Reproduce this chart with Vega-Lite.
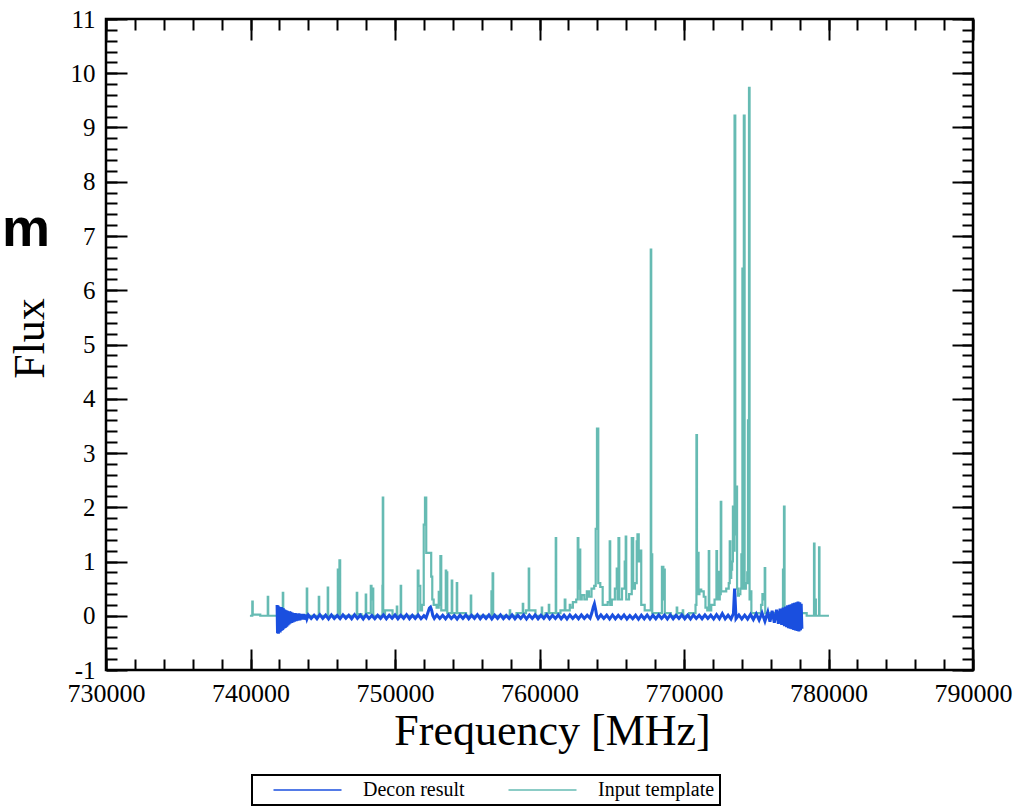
{
"$schema": "https://vega.github.io/schema/vega-lite/v6.json",
"width": 867,
"height": 651,
"autosize": "none",
"padding": {"left": 106, "top": 19, "right": 41, "bottom": 138},
"background": "white",
"config": {"view": {"stroke": "black", "strokeWidth": 2.5}, "font": "Liberation Serif"},
"datasets": {
"teal": [
{"f":739960,"v":0},{"f":740000,"v":0},{"f":740110,"v":0},{"f":740138,"v":0.26},{"f":740170,"v":0.02},
{"f":741180,"v":0},{"f":741210,"v":0.35},{"f":741240,"v":0},
{"f":742220,"v":0},{"f":742250,"v":0.42},{"f":742280,"v":0},
{"f":743880,"v":0},{"f":743910,"v":0.5},{"f":743940,"v":0},
{"f":744710,"v":0},{"f":744740,"v":0.35},{"f":744770,"v":0},
{"f":745330,"v":0},{"f":745360,"v":0.52},{"f":745390,"v":0},
{"f":746030,"v":0},{"f":746055,"v":0.85},{"f":746120,"v":0.05},{"f":746190,"v":1.02},{"f":746220,"v":0},
{"f":747340,"v":0},{"f":747370,"v":0.42},{"f":747400,"v":0.03},
{"f":747960,"v":0},{"f":747990,"v":0.39},{"f":748020,"v":0.05},{"f":748310,"v":0.05},{"f":748340,"v":0.55},{"f":748410,"v":0.3},{"f":748480,"v":0.5},{"f":748510,"v":0},
{"f":749120,"v":0},{"f":749140,"v":0.55},{"f":749170,"v":2.18},{"f":749200,"v":0},{"f":749420,"v":0.1},{"f":749550,"v":0.1},
{"f":750110,"v":0},{"f":750140,"v":0.17},{"f":750170,"v":0},{"f":750380,"v":0},{"f":750410,"v":0.55},{"f":750440,"v":0},
{"f":751560,"v":0},{"f":751590,"v":0.83},{"f":751660,"v":0.55},{"f":751729,"v":0.55},{"f":751770,"v":0.1},
{"f":751970,"v":0.2},{"f":752006,"v":1.68},{"f":752144,"v":2.18},{"f":752180,"v":1.16},{"f":752350,"v":1.16},{"f":752490,"v":1.16},{"f":752520,"v":0.72},{"f":752559,"v":0.72},{"f":752600,"v":0.3},{"f":752750,"v":0.2},
{"f":753010,"v":0.15},{"f":753044,"v":0.44},{"f":753100,"v":0.2},{"f":753182,"v":1.1},{"f":753220,"v":0.1},
{"f":753500,"v":0.1},{"f":753528,"v":0.83},{"f":753560,"v":0.4},{"f":753597,"v":0.8},{"f":753640,"v":0.05},
{"f":753910,"v":0.05},{"f":753943,"v":0.65},{"f":753980,"v":0.05},{"f":754260,"v":0.05},{"f":754289,"v":0.6},{"f":754320,"v":0.05},{"f":754600,"v":0.05},
{"f":755230,"v":0},{"f":755258,"v":0.37},{"f":755290,"v":0},
{"f":756660,"v":0},{"f":756690,"v":0.45},{"f":756730,"v":0.1},{"f":756780,"v":0.78},{"f":756810,"v":0},
{"f":757930,"v":0},{"f":757957,"v":0.1},{"f":757990,"v":0},
{"f":758830,"v":0.05},{"f":758856,"v":0.22},{"f":758890,"v":0.05},{"f":759240,"v":0.1},{"f":759272,"v":0.87},{"f":759300,"v":0.1},
{"f":760140,"v":0},{"f":760171,"v":0.15},{"f":760200,"v":0},{"f":760630,"v":0.05},{"f":760656,"v":0.2},{"f":760690,"v":0.05},
{"f":761110,"v":0.05},{"f":761140,"v":1.43},{"f":761170,"v":0.05},
{"f":761730,"v":0.1},{"f":761763,"v":0.3},{"f":761820,"v":0.1},{"f":762080,"v":0.1},{"f":762109,"v":0.2},{"f":762170,"v":0.15},{"f":762450,"v":0.25},
{"f":762630,"v":0.3},{"f":762662,"v":1.43},{"f":762720,"v":0.5},{"f":762801,"v":1.22},{"f":762840,"v":0.3},{"f":763008,"v":0.38},{"f":763200,"v":0.3},{"f":763354,"v":0.45},{"f":763500,"v":0.35},{"f":763700,"v":0.5},
{"f":763870,"v":0.55},{"f":763908,"v":1.6},{"f":764046,"v":3.45},{"f":764090,"v":0.6},{"f":764323,"v":0.53},{"f":764420,"v":0.2},{"f":764600,"v":0.2},
{"f":764840,"v":0.25},{"f":764877,"v":1.37},{"f":764910,"v":0.2},{"f":765100,"v":0.3},{"f":765330,"v":0.5},{"f":765361,"v":0.87},{"f":765430,"v":0.3},{"f":765500,"v":1.43},{"f":765540,"v":0.3},
{"f":765880,"v":0.5},{"f":765915,"v":1.0},{"f":765950,"v":0.5},{"f":765984,"v":1.46},{"f":766020,"v":0.3},{"f":766370,"v":0.4},{"f":766399,"v":1.43},{"f":766468,"v":1.43},{"f":766500,"v":0.5},
{"f":766710,"v":0.6},{"f":766745,"v":1.37},{"f":766814,"v":1.5},{"f":766920,"v":1.0},{"f":767022,"v":1.2},{"f":767060,"v":0.2},{"f":767500,"v":0.1},
{"f":767685,"v":0.1},{"f":767714,"v":6.75},{"f":767750,"v":0.5},{"f":767783,"v":1.13},{"f":767820,"v":0.05},
{"f":768400,"v":0.05},{"f":768544,"v":0.9},{"f":768600,"v":0.3},{"f":768648,"v":0.85},{"f":768690,"v":0.05},
{"f":769480,"v":0},{"f":769513,"v":0.15},{"f":769550,"v":0.05},{"f":769900,"v":0.05},{"f":769928,"v":0.1},{"f":769960,"v":0},
{"f":770750,"v":0.05},{"f":770845,"v":0.2},{"f":770876,"v":3.33},{"f":770920,"v":0.5},{"f":770987,"v":1.16},{"f":771030,"v":0.4},{"f":771105,"v":0.48},{"f":771280,"v":0.45},{"f":771451,"v":0.35},{"f":771520,"v":0.15},
{"f":771700,"v":0.1},{"f":771728,"v":1.19},{"f":771770,"v":0.1},{"f":772000,"v":0.2},{"f":772230,"v":0.3},{"f":772260,"v":1.19},{"f":772310,"v":0.4},{"f":772371,"v":0.81},{"f":772420,"v":0.3},
{"f":772530,"v":0.4},{"f":772558,"v":2.1},{"f":772600,"v":0.45},{"f":772800,"v":0.45},{"f":773042,"v":0.5},{"f":773150,"v":0.6},{"f":773181,"v":1.37},{"f":773240,"v":0.7},{"f":773298,"v":0.85},{"f":773360,"v":1.0},
{"f":773409,"v":2.01},{"f":773470,"v":1.2},{"f":773527,"v":9.22},{"f":773570,"v":1.5},{"f":773644,"v":2.38},{"f":773700,"v":0.5},{"f":773755,"v":0.37},{"f":773850,"v":0.4},{"f":773950,"v":0.5},
{"f":773990,"v":1.13},{"f":774025,"v":0.6},{"f":774060,"v":6.4},{"f":774110,"v":0.5},{"f":774170,"v":9.22},{"f":774220,"v":0.5},{"f":774340,"v":0.6},{"f":774410,"v":0.8},{"f":774447,"v":3.6},{"f":774480,"v":0.6},
{"f":774516,"v":9.73},{"f":774560,"v":0.3},{"f":774634,"v":0.45},{"f":774690,"v":0.05},
{"f":775290,"v":0.05},{"f":775374,"v":0.2},{"f":775480,"v":0.4},{"f":775570,"v":0.3},{"f":775603,"v":0.88},{"f":775640,"v":0.05},
{"f":776830,"v":0.05},{"f":776869,"v":0.85},{"f":776900,"v":0.3},{"f":776938,"v":2.01},{"f":776980,"v":0.05},{"f":777500,"v":0.1},{"f":778000,"v":0.05},
{"f":778980,"v":0},{"f":779014,"v":1.33},{"f":779050,"v":0.1},{"f":779100,"v":0.3},{"f":779150,"v":0},{"f":779330,"v":0},{"f":779360,"v":1.26},{"f":779390,"v":0},{"f":780032,"v":0}
],
"blue": [
{"f":741840,"v":0.2},{"f":741870,"v":-0.32},{"f":741900,"v":0.19},{"f":741930,"v":-0.33},{"f":741960,"v":0.17},{"f":741990,"v":-0.3},{"f":742020,"v":0.16},{"f":742050,"v":-0.31},
{"f":742080,"v":0.15},{"f":742110,"v":-0.28},{"f":742140,"v":0.16},{"f":742170,"v":-0.27},{"f":742200,"v":0.13},{"f":742230,"v":-0.26},{"f":742260,"v":0.14},{"f":742290,"v":-0.24},
{"f":742320,"v":0.12},{"f":742350,"v":-0.23},{"f":742390,"v":0.11},{"f":742430,"v":-0.22},{"f":742470,"v":0.1},{"f":742510,"v":-0.2},{"f":742550,"v":0.09},{"f":742590,"v":-0.18},
{"f":742630,"v":0.08},{"f":742670,"v":-0.16},{"f":742710,"v":0.08},{"f":742750,"v":-0.14},{"f":742790,"v":0.07},{"f":742840,"v":-0.13},{"f":742890,"v":0.06},{"f":742940,"v":-0.12},
{"f":742990,"v":0.05},{"f":743040,"v":-0.11},{"f":743100,"v":0.05},{"f":743160,"v":-0.1},{"f":743220,"v":0.04},{"f":743280,"v":-0.09},{"f":743350,"v":0.04},{"f":743420,"v":-0.08},
{"f":743500,"v":0.03},{"f":743580,"v":-0.07},{"f":743660,"v":0.03},{"f":743740,"v":-0.07},{"f":743820,"v":0.02},{"f":743900,"v":-0.06},
{"f":744000,"v":0.015},{"f":744200,"v":-0.05},{"f":744400,"v":0.01},{"f":744600,"v":-0.055},{"f":744800,"v":0.02},{"f":745000,"v":-0.05},{"f":745200,"v":0.01},{"f":745400,"v":-0.06},
{"f":745600,"v":0.015},{"f":745800,"v":-0.05},{"f":746000,"v":0.005},{"f":746200,"v":-0.055},{"f":746400,"v":0.015},{"f":746600,"v":-0.045},{"f":746800,"v":0.01},{"f":747000,"v":-0.055},
{"f":747200,"v":0.02},{"f":747400,"v":-0.05},{"f":747600,"v":0.01},{"f":747800,"v":-0.06},{"f":748000,"v":0.015},{"f":748200,"v":-0.05},{"f":748400,"v":0.005},{"f":748600,"v":-0.055},
{"f":748800,"v":0.01},{"f":749000,"v":-0.05},{"f":749200,"v":0.015},{"f":749400,"v":-0.055},{"f":749600,"v":0.01},{"f":749800,"v":-0.045},{"f":750000,"v":0.015},{"f":750200,"v":-0.055},
{"f":750400,"v":0.01},{"f":750600,"v":-0.05},{"f":750800,"v":0.02},{"f":751000,"v":-0.055},{"f":751200,"v":0.01},{"f":751400,"v":-0.05},{"f":751600,"v":0.015},{"f":751800,"v":-0.055},
{"f":752000,"v":0.0},{"f":752150,"v":-0.04},{"f":752280,"v":0.06},{"f":752380,"v":0.14},{"f":752460,"v":0.16},{"f":752540,"v":0.1},{"f":752620,"v":0.0},{"f":752720,"v":-0.05},
{"f":752900,"v":0.015},{"f":753100,"v":-0.05},{"f":753300,"v":0.01},{"f":753500,"v":-0.055},{"f":753700,"v":0.015},{"f":753900,"v":-0.05},{"f":754100,"v":0.005},{"f":754300,"v":-0.06},
{"f":754500,"v":0.01},{"f":754700,"v":-0.05},{"f":754900,"v":0.015},{"f":755100,"v":-0.055},{"f":755300,"v":0.01},{"f":755500,"v":-0.05},{"f":755700,"v":0.02},{"f":755900,"v":-0.055},
{"f":756100,"v":0.01},{"f":756300,"v":-0.05},{"f":756500,"v":0.015},{"f":756700,"v":-0.06},{"f":756900,"v":0.01},{"f":757100,"v":-0.05},{"f":757300,"v":0.015},{"f":757500,"v":-0.055},
{"f":757700,"v":0.005},{"f":757900,"v":-0.05},{"f":758100,"v":0.015},{"f":758300,"v":-0.055},{"f":758500,"v":0.01},{"f":758700,"v":-0.05},{"f":758900,"v":0.015},{"f":759100,"v":-0.06},
{"f":759300,"v":0.01},{"f":759500,"v":-0.05},{"f":759700,"v":0.015},{"f":759900,"v":-0.055},{"f":760100,"v":0.01},{"f":760300,"v":-0.05},{"f":760500,"v":0.02},{"f":760700,"v":-0.055},
{"f":760900,"v":0.01},{"f":761100,"v":-0.05},{"f":761300,"v":0.015},{"f":761500,"v":-0.055},{"f":761700,"v":0.01},{"f":761900,"v":-0.06},{"f":762100,"v":0.015},{"f":762300,"v":-0.05},
{"f":762500,"v":0.01},{"f":762700,"v":-0.055},{"f":762900,"v":0.015},{"f":763100,"v":-0.05},{"f":763300,"v":0.01},{"f":763500,"v":-0.045},{"f":763620,"v":0.05},{"f":763720,"v":0.16},
{"f":763800,"v":0.22},{"f":763880,"v":0.12},{"f":763960,"v":0.0},{"f":764060,"v":-0.05},{"f":764250,"v":0.015},{"f":764450,"v":-0.05},{"f":764650,"v":0.01},{"f":764850,"v":-0.06},
{"f":765050,"v":0.015},{"f":765250,"v":-0.055},{"f":765450,"v":0.01},{"f":765650,"v":-0.05},{"f":765850,"v":0.015},{"f":766050,"v":-0.06},{"f":766250,"v":0.005},{"f":766450,"v":-0.055},
{"f":766650,"v":0.01},{"f":766850,"v":-0.065},{"f":767050,"v":0.01},{"f":767250,"v":-0.055},{"f":767450,"v":0.015},{"f":767650,"v":-0.06},{"f":767850,"v":0.01},{"f":768050,"v":-0.055},
{"f":768250,"v":0.015},{"f":768450,"v":-0.05},{"f":768650,"v":0.01},{"f":768850,"v":-0.06},{"f":769050,"v":0.015},{"f":769250,"v":-0.055},{"f":769450,"v":0.01},{"f":769650,"v":-0.05},
{"f":769850,"v":0.015},{"f":770050,"v":-0.055},{"f":770250,"v":0.01},{"f":770450,"v":-0.06},{"f":770650,"v":0.015},{"f":770850,"v":-0.05},{"f":771050,"v":0.01},{"f":771250,"v":-0.055},
{"f":771450,"v":0.015},{"f":771650,"v":-0.05},{"f":771850,"v":0.01},{"f":772050,"v":-0.06},{"f":772250,"v":0.02},{"f":772450,"v":-0.055},{"f":772650,"v":0.04},{"f":772850,"v":-0.055},
{"f":773050,"v":0.01},{"f":773250,"v":-0.06},{"f":773420,"v":0.04},{"f":773500,"v":0.5},{"f":773540,"v":0.3},{"f":773600,"v":-0.055},{"f":773800,"v":0.015},{"f":774000,"v":-0.06},
{"f":774200,"v":0.01},{"f":774400,"v":-0.06},{"f":774600,"v":0.025},{"f":774800,"v":-0.07},{"f":775000,"v":0.035},{"f":775200,"v":-0.08},{"f":775400,"v":0.05},{"f":775600,"v":-0.1},
{"f":775800,"v":0.07},{"f":775950,"v":-0.11},{"f":776100,"v":0.09},{"f":776250,"v":-0.13},{"f":776400,"v":0.11},{"f":776530,"v":-0.15},{"f":776650,"v":0.13},{"f":776760,"v":-0.17},
{"f":776860,"v":0.15},{"f":776950,"v":-0.19},{"f":777030,"v":0.17},{"f":777100,"v":-0.21},{"f":777170,"v":0.19},{"f":777230,"v":-0.23},{"f":777290,"v":0.2},{"f":777350,"v":-0.24},
{"f":777410,"v":0.21},{"f":777470,"v":-0.25},{"f":777530,"v":0.23},{"f":777590,"v":-0.26},{"f":777650,"v":0.24},{"f":777710,"v":-0.27},{"f":777770,"v":0.25},{"f":777830,"v":-0.28},
{"f":777890,"v":0.26},{"f":777950,"v":-0.29},{"f":778010,"v":0.25},{"f":778060,"v":-0.27},{"f":778110,"v":0.22},{"f":778160,"v":-0.24}
]
},
"layer": [
{
"data": {"name": "teal"},
"mark": {"type": "line", "strokeWidth": 2.2, "interpolate": "step"},
"encoding": {
"x": {"field": "f", "type": "quantitative",
 "scale": {"domain": [730000, 790000], "nice": false, "zero": false},
 "axis": {"orient": "bottom", "values": [730000,740000,750000,760000,770000,780000,790000], "ticks": false, "domain": false, "grid": false,
  "labelExpr": "'' + datum.value", "labelFont": "Liberation Serif", "labelFontSize": 26, "labelColor": "black", "labelPadding": 10, "labelFlush": false, "labelOverlap": false,
  "title": "Frequency [MHz]", "titleFont": "Liberation Serif", "titleFontSize": 44, "titleFontWeight": "normal", "titleColor": "black", "titlePadding": 3, "titleX": 446}},
"y": {"field": "v", "type": "quantitative",
 "scale": {"domain": [-1, 11], "nice": false, "zero": false},
 "axis": {"orient": "left", "values": [-1,0,1,2,3,4,5,6,7,8,9,10,11], "ticks": false, "domain": false, "grid": false,
  "labelExpr": "'' + datum.value", "labelFont": "Liberation Serif", "labelFontSize": 25, "labelColor": "black", "labelPadding": 11, "labelFlush": false, "labelOverlap": false,
  "title": "Flux", "titleFont": "Liberation Serif", "titleFontSize": 44, "titleFontWeight": "normal", "titleColor": "black", "titlePadding": 18, "titleY": 319}},
"color": {"datum": "Input template", "type": "nominal",
 "scale": {"domain": ["Decon result", "Input template"], "range": ["#1a4fdf", "#66bbb3"]},
 "legend": {"orient": "none", "legendX": 146, "legendY": 756, "direction": "horizontal", "title": null,
  "strokeColor": "black", "fillColor": "white", "padding": 5,
  "symbolType": "M-4,0H4", "symbolSize": 289, "symbolStrokeWidth": 1.5, "symbolOffset": 40.5,
  "labelOffset": 45.5, "labelFont": "Liberation Serif", "labelFontSize": 20, "labelColor": "black", "columnPadding": 27,
  "encode": {"legend": {"update": {"strokeWidth": {"value": 2}}}}}}
}
},
{
"data": {"name": "blue"},
"mark": {"type": "line", "strokeWidth": 3},
"encoding": {
"x": {"field": "f", "type": "quantitative",
 "axis": {"orient": "top", "values": [730000,740000,750000,760000,770000,780000,790000], "labels": false, "domain": false, "grid": false, "title": null,
  "ticks": true, "tickSize": 21, "offset": -21, "tickWidth": 2, "tickColor": "black"}},
"y": {"field": "v", "type": "quantitative",
 "axis": {"orient": "right", "values": [-1,0,1,2,3,4,5,6,7,8,9,10,11], "labels": false, "domain": false, "grid": false, "title": null,
  "ticks": true, "tickSize": 21, "offset": -21, "tickWidth": 2, "tickColor": "black"}},
"color": {"datum": "Decon result", "type": "nominal"}
}
},
{
"data": {"name": "teal"},
"mark": {"type": "line", "opacity": 0},
"encoding": {
"x": {"field": "f", "type": "quantitative",
 "axis": {"orient": "bottom", "values": [730000,740000,750000,760000,770000,780000,790000], "labels": false, "domain": false, "grid": false, "title": null,
  "ticks": true, "tickSize": 21, "offset": -21, "tickWidth": 2, "tickColor": "black"}},
"y": {"field": "v", "type": "quantitative",
 "axis": {"orient": "left", "values": [-1,0,1,2,3,4,5,6,7,8,9,10,11], "labels": false, "domain": false, "grid": false, "title": null,
  "ticks": true, "tickSize": 21, "offset": -21, "tickWidth": 2, "tickColor": "black"}}
}
},
{
"data": {"name": "teal"},
"mark": {"type": "line", "opacity": 0},
"encoding": {
"x": {"field": "f", "type": "quantitative",
 "axis": {"orient": "bottom", "tickCount": 30, "labels": false, "domain": false, "grid": false, "title": null,
  "ticks": true, "tickSize": 11, "offset": -11, "tickWidth": 2, "tickColor": "black"}},
"y": {"field": "v", "type": "quantitative",
 "axis": {"orient": "left", "tickCount": 60, "labels": false, "domain": false, "grid": false, "title": null,
  "ticks": true, "tickSize": 11, "offset": -11, "tickWidth": 2, "tickColor": "black"}}
}
},
{
"data": {"name": "teal"},
"mark": {"type": "line", "opacity": 0},
"encoding": {
"x": {"field": "f", "type": "quantitative",
 "axis": {"orient": "top", "tickCount": 30, "labels": false, "domain": false, "grid": false, "title": null,
  "ticks": true, "tickSize": 11, "offset": -11, "tickWidth": 2, "tickColor": "black"}},
"y": {"field": "v", "type": "quantitative",
 "axis": {"orient": "right", "tickCount": 60, "labels": false, "domain": false, "grid": false, "title": null,
  "ticks": true, "tickSize": 11, "offset": -11, "tickWidth": 2, "tickColor": "black"}}
}
},
{
"data": {"values": [{}]},
"mark": {"type": "text", "text": "um", "font": "Liberation Sans", "fontWeight": "bold", "fontSize": 54, "align": "right", "baseline": "alphabetic", "color": "black"},
"encoding": {
"x": {"datum": 726125, "type": "quantitative", "axis": null},
"y": {"datum": 6.82, "type": "quantitative", "axis": null}
}
}
],
"resolve": {"axis": {"x": "independent", "y": "independent"}}
}
